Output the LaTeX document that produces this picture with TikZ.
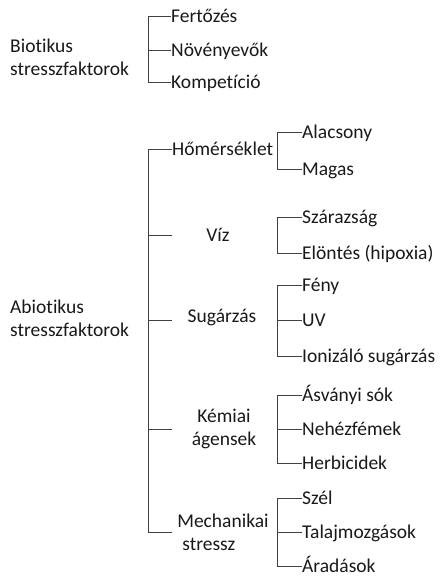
\documentclass[tikz,border=0pt]{standalone}
\usepackage{fontspec}
\setmainfont{Carlito}[Ligatures=NoCommon]
\begin{document}
\begin{tikzpicture}[x=1pt,y=-1pt,
  every node/.style={inner sep=0pt, font=\fontsize{19.5}{23}\selectfont, text=black!90},
  lab/.style={anchor=west, text height=12.5pt, text depth=0pt},
  multi/.style={align=center},
  conn/.style={draw=black!75, line width=0.9pt}]
\useasboundingbox (0,0) rectangle (444,576);

% Biotic
\node[anchor=west, align=left] (bio) at (10,57.5) {Biotikus\\stresszfaktorok};
\node[lab] (b1) at (171,16) {Fertőzés};
\node[lab] (b2) at (171,50) {Növényevők};
\node[lab] (b3) at (171,82) {Kompetíció};
\draw[conn] (b1.west) -- ++(-23,0) |- (b3.west);
\draw[conn] (b2.west) -- ++(-23,0);

% Abiotic
\node[anchor=west, align=left] (abio) at (10,318.5) {Abiotikus\\stresszfaktorok};
\node[lab] (hom) at (172,149) {Hőmérséklet};
\coordinate (tviz) at (172,235);
\coordinate (tsug) at (172,320);
\coordinate (tkem) at (172,429);
\coordinate (tmech) at (172,532);
\node (viz) at (218,235) {Víz};
\node (sug) at (222,318) {Sugárzás};
\node[multi] (kem) at (224,428.5) {Kémiai\\ágensek};
\node[align=left] (mech) at (223,532) {Mechanikai\\\hspace{5pt}stressz};
\draw[conn] (hom.west) -- ++(-24,0) |- (tmech);
\draw[conn] (tviz) -- ++(-24,0);
\draw[conn] (tsug) -- ++(-24,0);
\draw[conn] (tkem) -- ++(-24,0);

% Hőmérséklet children
\node[lab] (h1) at (302,132) {Alacsony};
\node[lab] (h2) at (302,169) {Magas};
\draw[conn] (h1.west) -- ++(-25,0) |- (h2.west);

% Víz children
\node[lab] (v1) at (302,217) {Szárazság};
\node[lab] (v2) at (302,253) {Elöntés (hipoxia)};
\draw[conn] (v1.west) -- ++(-25,0) |- (v2.west);

% Sugárzás children
\node[lab] (s1) at (302,285) {Fény};
\node[lab] (s2) at (302,320) {UV};
\node[lab] (s3) at (302,356) {Ionizáló sugárzás};
\draw[conn] (s1.west) -- ++(-25,0) |- (s3.west);
\draw[conn] (s2.west) -- ++(-25,0);

% Kémiai children
\node[lab] (k1) at (302,395) {Ásványi sók};
\node[lab] (k2) at (302,429) {Nehézfémek};
\node[lab] (k3) at (302,463) {Herbicidek};
\draw[conn] (k1.west) -- ++(-25,0) |- (k3.west);
\draw[conn] (k2.west) -- ++(-25,0);

% Mechanikai children
\node[lab] (m1) at (302,498) {Szél};
\node[lab] (m2) at (302,532) {Talajmozgások};
\node[lab] (m3) at (302,566) {Áradások};
\draw[conn] (m1.west) -- ++(-25,0) |- (m3.west);
\draw[conn] (m2.west) -- ++(-25,0);
\end{tikzpicture}
\end{document}
